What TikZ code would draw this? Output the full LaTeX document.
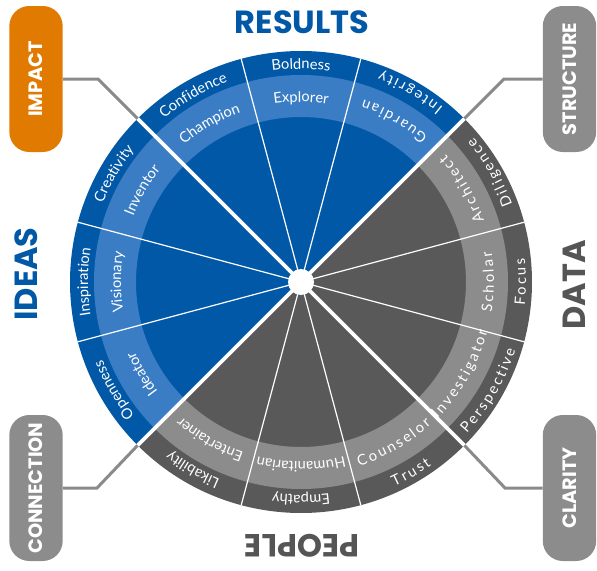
\documentclass[tikz,border=0pt]{standalone}
\usepackage{fontspec}
\setmainfont{Lato}
\newfontfamily\headfont{Poppins}
\usetikzlibrary{decorations.text}

\definecolor{bluedark}{RGB}{0,88,166}
\definecolor{bluelight}{RGB}{58,125,197}
\definecolor{graydark}{RGB}{89,89,89}
\definecolor{graylight}{RGB}{140,140,140}
\definecolor{pillgray}{RGB}{140,140,140}
\definecolor{impactorange}{RGB}{225,122,0}
\definecolor{linegray}{RGB}{138,138,140}
\definecolor{headgray}{RGB}{85,85,85}

\newcommand{\ringfont}{\normalfont\fontsize{11}{13}\selectfont}
\makeatletter
% font switch that also works for measuring inside the picture
\newcommand{\ringmeasure}{\ringfont\font@name}
\makeatother
\newdimen\ringwd
\newdimen\chwd
\newdimen\ringpos
\newcommand{\ringgap}{1.7pt}
% spaced letters along an arc, read counterclockwise, tops inward
\newcommand{\spacedlabel}[3]{%
  \global\ringwd=0pt
  \foreach \ch in {#3}{\settowidth{\chwd}{\ringmeasure\ch}\global\advance\ringwd by \chwd\global\advance\ringwd by \ringgap}%
  \global\advance\ringwd by -\ringgap
  \global\ringpos=0pt
  \foreach \ch [count=\i] in {#3}{%
    \settowidth{\chwd}{\ringmeasure\ch}%
    \pgfmathsetmacro{\chang}{#1+deg((\the\ringpos+0.5*\the\chwd-0.5*\the\ringwd)/(#2*0.75pt))}%
    \node[letter,rotate=\chang+90] (lbl#1n\i) at (\chang:#2) {\ch};%
    \global\advance\ringpos by \chwd\global\advance\ringpos by \ringgap}%
}

\tikzset{
  cwtext/.style={decorate,decoration={text along path,text align=center,text={|\ringfont\color{white}|#1}}},
  letter/.style={anchor=base,inner sep=0pt,text=white,font=\ringfont},
  pill/.style={rounded corners=15pt,minimum width=109.5pt,minimum height=40pt,inner sep=0pt,rotate=90,text=white,font=\headfont\bfseries\fontsize{14.5}{16}\selectfont},
  head/.style={inner sep=0pt,font=\headfont\bfseries\fontsize{24}{26}\selectfont},
  connector/.style={draw=linegray,line width=2.25pt},
}

\begin{document}
\begin{tikzpicture}[x=0.75pt,y=0.75pt,yscale=-1,xscale=1]
\useasboundingbox (0,0) rectangle (597,571);

%Shape: Pills
\node[pill,fill=impactorange] (impact) at (36,79) {IMPACT};
\node[pill,fill=pillgray] (structure) at (569.5,79) {STRUCTURE};
\node[pill,fill=pillgray] (connection) at (36,488) {CONNECTION};
\node[pill,fill=pillgray] (clarity) at (569.5,488) {CLARITY};

%Coordinates: wheel edge and elbows
\coordinate (edgeTL) at (137.7,118.7);
\coordinate (edgeTR) at (464.3,118.7);
\coordinate (edgeBL) at (137.7,445.3);
\coordinate (edgeBR) at (464.3,445.3);
\coordinate (elbowTL) at (98,79);
\coordinate (elbowTR) at (504,79);
\coordinate (elbowBL) at (97,488);
\coordinate (elbowBR) at (505,488);

%Straight Lines: connectors
\draw[connector] (impact.south) -- (elbowTL) -- (edgeTL);
\draw[connector] (structure.north) -- (elbowTR) -- (edgeTR);
\draw[connector] (connection.south) -- (elbowBL) -- (edgeBL);
\draw[connector] (clarity.north) -- (elbowBR) -- (edgeBR);

\begin{scope}[shift={(301,282)},yscale=-1]
%Shape: Sectors
\fill[bluedark] (0,0) -- (45:231) arc[start angle=45,end angle=225,radius=231] -- cycle;
\fill[graydark] (0,0) -- (225:231) arc[start angle=225,end angle=405,radius=231] -- cycle;
%Shape: Light bands
\fill[bluelight] (45:207) arc[start angle=45,end angle=225,radius=207] -- (225:165) arc[start angle=225,end angle=45,radius=165] -- cycle;
\fill[graylight] (225:207) arc[start angle=225,end angle=405,radius=207] -- (45:165) arc[start angle=405,end angle=225,radius=165] -- cycle;
%Straight Lines: thin dividers
\draw[white,line width=0.9pt] (0,0) -- (15:231) (0,0) -- (75:231) (0,0) -- (105:231) (0,0) -- (165:231)
  (0,0) -- (195:231) (0,0) -- (255:231) (0,0) -- (285:231) (0,0) -- (345:231);
%Straight Lines: thick dividers
\draw[white,line width=2.8pt] (0,0) -- (45:231) (0,0) -- (135:231) (0,0) -- (225:231) (0,0) -- (315:231);
%Shape: Circle
\fill[white] (0,0) circle[radius=13];

% Text along arcs, outer band
\path[cwtext=Confidence] (165:213) arc[start angle=165,end angle=75,radius=213];
\path[cwtext=Boldness] (135:213) arc[start angle=135,end angle=45,radius=213];
\path[cwtext=Creativity] (195:213) arc[start angle=195,end angle=105,radius=213];
\path[cwtext=Inspiration] (225:213) arc[start angle=225,end angle=135,radius=213];
\path[cwtext=Openness] (255:213) arc[start angle=255,end angle=165,radius=213];
\path[cwtext=Likability] (285:213) arc[start angle=285,end angle=195,radius=213];
\path[cwtext=Empathy] (315:213) arc[start angle=315,end angle=225,radius=213];
\spacedlabel{60}{225}{I,n,t,e,g,r,i,t,y}
\spacedlabel{30}{225}{D,i,l,i,g,e,n,c,e}
\spacedlabel{0}{225}{F,o,c,u,s}
\spacedlabel{-30}{225}{P,e,r,s,p,e,c,t,i,v,e}
\spacedlabel{-60}{225}{T,r,u,s,t}
% Text along arcs, light band
\path[cwtext=Champion] (165:180) arc[start angle=165,end angle=75,radius=180];
\path[cwtext=Explorer] (135:180) arc[start angle=135,end angle=45,radius=180];
\path[cwtext=Inventor] (195:180) arc[start angle=195,end angle=105,radius=180];
\path[cwtext=Visionary] (225:180) arc[start angle=225,end angle=135,radius=180];
\path[cwtext=Ideator] (255:180) arc[start angle=255,end angle=165,radius=180];
\path[cwtext=Entertainer] (285:180) arc[start angle=285,end angle=195,radius=180];
\path[cwtext=Humanitarian] (315:180) arc[start angle=315,end angle=225,radius=180];
\spacedlabel{60}{193}{G,u,a,r,d,i,a,n}
\spacedlabel{30}{193}{A,r,c,h,i,t,e,c,t}
\spacedlabel{0}{193}{S,c,h,o,l,a,r}
\spacedlabel{-30}{193}{I,n,v,e,s,t,i,g,a,t,o,r}
\spacedlabel{-60}{193}{C,o,u,n,s,e,l,o,r}
\end{scope}

% Text Node
\node[head,text=bluedark] (results) at (302,22) {RESULTS};
% Text Node
\node[head,text=bluedark,rotate=90] (ideas) at (26,274) {IDEAS};
% Text Node
\node[head,text=headgray,rotate=90] (data) at (574,285) {DATA};
% Text Node
\node[head,text=headgray,rotate=180] (people) at (302,546) {PEOPLE};

\end{tikzpicture}
\end{document}
